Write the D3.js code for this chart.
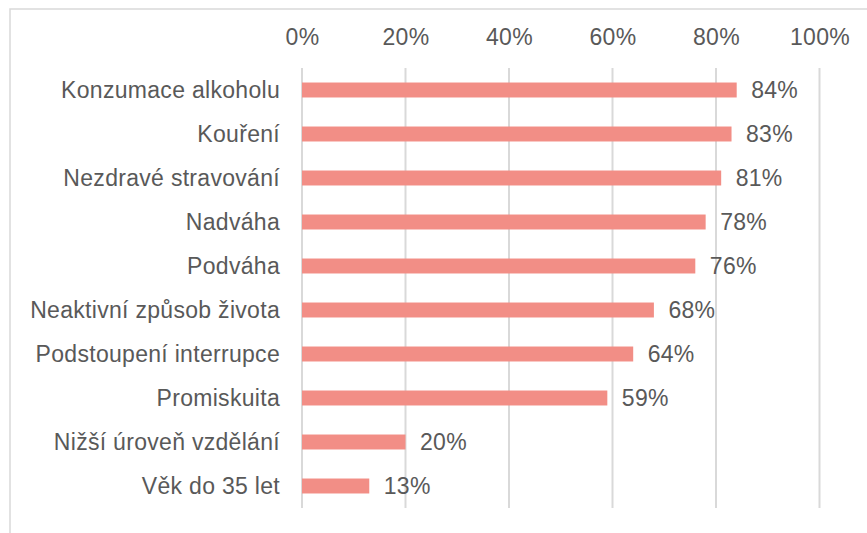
<!DOCTYPE html>
<html>
<head>
<meta charset="utf-8">
<script src="https://cdn.jsdelivr.net/npm/d3@7"></script>
<style>
  body { margin: 0; background: #fff; }
  svg text { font-family: "Liberation Sans", Arial, sans-serif; fill: #595959; }
</style>
</head>
<body>
<svg id="chart" width="867" height="533"></svg>
<script>
const categories = [
  'Konzumace alkoholu', 'Kouření', 'Nezdravé stravování', 'Nadváha', 'Podváha',
  'Neaktivní způsob života', 'Podstoupení interrupce', 'Promiskuita',
  'Nižší úroveň vzdělání', 'Věk do 35 let',
];
const values = [84, 83, 81, 78, 76, 68, 64, 59, 20, 13];
const ticks = [0, 20, 40, 60, 80, 100];

const svg = d3.select('#chart');
const margin = { top: 68, left: 302, right: 47.5, bottom: 25 };
const width = 867;
const height = 533;

// light frame round the plot area
svg.append('rect')
  .attr('x', 10).attr('y', 9)
  .attr('width', 900).attr('height', 600)
  .attr('fill', 'none')
  .attr('stroke', '#d9d9d9')
  .attr('stroke-width', 1.5);

const xScale = d3.scaleLinear().domain([0, 100]).range([margin.left, width - margin.right]);
const yScale = d3.scaleBand()
  .domain(categories)
  .range([margin.top, height - margin.bottom])
  .paddingInner(0.66)
  .paddingOuter(0.33);

// gridlines
svg.append('g').selectAll('line')
  .data(ticks)
  .join('line')
  .attr('x1', (d) => xScale(d)).attr('x2', (d) => xScale(d))
  .attr('y1', margin.top).attr('y2', height - margin.bottom)
  .attr('stroke', '#d9d9d9')
  .attr('stroke-width', 2);

// top axis labels
const xAxis = d3.axisTop(xScale).tickValues(ticks).tickFormat((d) => `${d}%`).tickSize(0).tickPadding(0);
const xAxisG = svg.append('g').attr('transform', 'translate(0, 45)').call(xAxis);
xAxisG.select('.domain').remove();
xAxisG.selectAll('text')
  .attr('y', 0).attr('dy', 0)
  .style('font-size', '23px')
  .style('letter-spacing', '0.3px');

// bars
svg.append('g').selectAll('rect')
  .data(values)
  .join('rect')
  .attr('x', xScale(0))
  .attr('y', (d, i) => yScale(categories[i]))
  .attr('width', (d) => xScale(d) - xScale(0))
  .attr('height', yScale.bandwidth())
  .attr('fill', '#f28e86');

// category labels
const yAxis = d3.axisLeft(yScale).tickSize(0).tickPadding(22);
const yAxisG = svg.append('g').attr('transform', `translate(${margin.left}, 0)`).call(yAxis);
yAxisG.select('.domain').remove();
yAxisG.selectAll('text')
  .attr('dy', '0.36em')
  .style('font-size', '23px')
  .style('letter-spacing', '0.3px');

// value labels
svg.append('g').selectAll('text')
  .data(values)
  .join('text')
  .attr('x', (d) => xScale(d) + 14.5)
  .attr('y', (d, i) => yScale(categories[i]) + yScale.bandwidth() / 2)
  .attr('dy', '0.36em')
  .style('font-size', '23px')
  .style('letter-spacing', '0.3px')
  .text((d) => `${d}%`);
</script>
</body>
</html>
